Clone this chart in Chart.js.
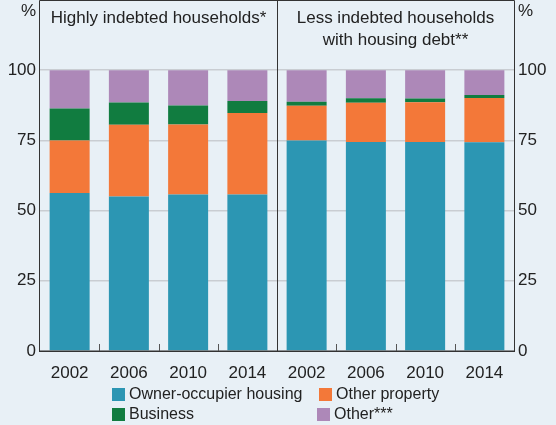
<!DOCTYPE html>
<html>
<head>
<meta charset="utf-8">
<script src="https://cdn.jsdelivr.net/npm/chart.js"></script>
<style>
  body { margin: 0; background: #e8f0f6; font-family: Arial, "Liberation Sans", sans-serif; }
  #wrap { position: relative; width: 556px; height: 425px; }
  .lg { position: absolute; font-size: 16px; line-height: 16px; color: #222; padding-left: 17px; white-space: nowrap; }
  .lg i { position: absolute; left: 0; top: 2px; width: 13px; height: 13px; }
</style>
</head>
<body>
<div id="wrap">
  <canvas id="chart" width="556" height="425"></canvas>
  <div class="lg" style="left:112px;top:386px"><i style="background:#2c96b3"></i>Owner-occupier housing</div>
  <div class="lg" style="left:319px;top:386px"><i style="background:#f37839"></i>Other property</div>
  <div class="lg" style="left:112px;top:406px"><i style="background:#117c40"></i>Business</div>
  <div class="lg" style="left:317px;top:406px"><i style="background:#ad88b8"></i>Other***</div>
</div>
<script>
// years shown under each panel
var years = ["2002", "2006", "2010", "2014"];

// highly indebted households (per cent of debt)
var highOwner     = [56.3, 55.0, 55.7, 55.7];
var highOtherProp = [18.7, 25.6, 25.0, 29.1];
var highBusiness  = [11.4, 7.9, 6.7, 4.2];
var highOther     = [13.6, 11.5, 12.6, 11.0];

// less indebted households with housing debt
var lessOwner     = [75.0, 74.4, 74.4, 74.3];
var lessOtherProp = [12.3, 14.0, 14.2, 15.8];
var lessBusiness  = [1.5, 1.6, 1.3, 1.1];
var lessOther     = [11.2, 10.0, 10.1, 8.8];

var yTicks = [0, 25, 50, 75, 100];

Chart.defaults.font.family = 'Arial, "Liberation Sans", sans-serif';
Chart.defaults.color = '#222';

// frame, panel divider, small inner ticks, panel titles and % units
var decor = {
    id: 'decor',
    afterDraw: function(chart) {
        var c = chart.ctx, a = chart.chartArea, x = chart.scales.x;
        var half = (x.getPixelForValue(3) + x.getPixelForValue(4)) / 2;
        c.save();
        c.strokeStyle = '#333';
        c.lineWidth = 1;
        c.beginPath();
        c.moveTo(Math.round(a.left) - 0.5, a.bottom);
        c.lineTo(Math.round(a.left) - 0.5, a.top + 0.5);
        c.lineTo(Math.round(a.right) + 0.5, a.top + 0.5);
        c.lineTo(Math.round(a.right) + 0.5, a.bottom);
        c.moveTo(Math.round(half) + 0.5, a.top);
        c.lineTo(Math.round(half) + 0.5, a.bottom);
        c.stroke();
        c.lineWidth = 1.5;
        c.beginPath();
        c.moveTo(a.left - 1, Math.round(a.bottom) + 0.25);
        c.lineTo(a.right + 1, Math.round(a.bottom) + 0.25);
        c.stroke();
        // short ticks between bars
        c.lineWidth = 1;
        c.strokeStyle = '#555';
        c.beginPath();
        for (var i = 1; i < 8; i++) {
            if (i === 4) continue;
            var px = Math.round((x.getPixelForValue(i - 1) + x.getPixelForValue(i)) / 2) + 0.5;
            c.moveTo(px, a.bottom);
            c.lineTo(px, a.bottom - 7);
        }
        c.stroke();

        c.fillStyle = '#222';
        c.font = 'normal normal 400 17px Arial, "Liberation Sans", sans-serif';
        c.textAlign = 'center';
        c.textBaseline = 'middle';
        c.fillText('Highly indebted households*', (a.left + half) / 2, 18);
        c.fillText('Less indebted households', (half + a.right) / 2, 18);
        c.fillText('with housing debt**', (half + a.right) / 2, 40);

        c.textAlign = 'right';
        c.fillText('%', a.left - 4, 11);
        c.textAlign = 'left';
        c.fillText('%', a.right + 4, 11);
        c.restore();
    }
};

function noPad(s) { s.paddingTop = 0; s.paddingBottom = 0; }

var ctx = document.getElementById('chart').getContext('2d');
var myChart = new Chart(ctx, {
    type: 'bar',
    data: {
        labels: years.concat(years),
        datasets: [
            { label: 'Owner-occupier housing', data: highOwner.concat(lessOwner), backgroundColor: '#2c96b3' },
            { label: 'Other property', data: highOtherProp.concat(lessOtherProp), backgroundColor: '#f37839' },
            { label: 'Business', data: highBusiness.concat(lessBusiness), backgroundColor: '#117c40' },
            { label: 'Other***', data: highOther.concat(lessOther), backgroundColor: '#ad88b8' }
        ]
    },
    options: {
        responsive: false,
        animation: false,
        layout: { padding: { top: 0, bottom: 45, left: 0, right: 0 } },
        datasets: { bar: { categoryPercentage: 1, barPercentage: 0.675 } },
        scales: {
            x: {
                stacked: true,
                grid: { display: false },
                border: { display: false },
                ticks: { font: { size: 17 }, padding: 4, maxRotation: 0, autoSkip: false },
                afterFit: function(s) { s.height = 29; }
            },
            y: {
                stacked: true,
                position: 'left',
                min: 0, max: 125,
                border: { display: false },
                grid: {
                    drawTicks: false,
                    color: function(g) { return (g.tick.value > 0 && g.tick.value < 125) ? '#c9cdd2' : 'rgba(0,0,0,0)'; },
                    lineWidth: 1.5
                },
                ticks: {
                    stepSize: 25, padding: 4, font: { size: 17 },
                    callback: function(v) { return yTicks.indexOf(v) >= 0 ? v : null; }
                },
                afterFit: function(s) { s.width = 40; noPad(s); }
            },
            y2: {
                position: 'right',
                min: 0, max: 125,
                border: { display: false },
                grid: { display: false, drawTicks: false },
                ticks: {
                    stepSize: 25, padding: 4, font: { size: 17 },
                    callback: function(v) { return yTicks.indexOf(v) >= 0 ? v : null; }
                },
                afterFit: function(s) { s.width = 42; noPad(s); }
            }
        },
        plugins: { legend: { display: false }, tooltip: { enabled: false } }
    },
    plugins: [decor]
});
</script>
</body>
</html>
